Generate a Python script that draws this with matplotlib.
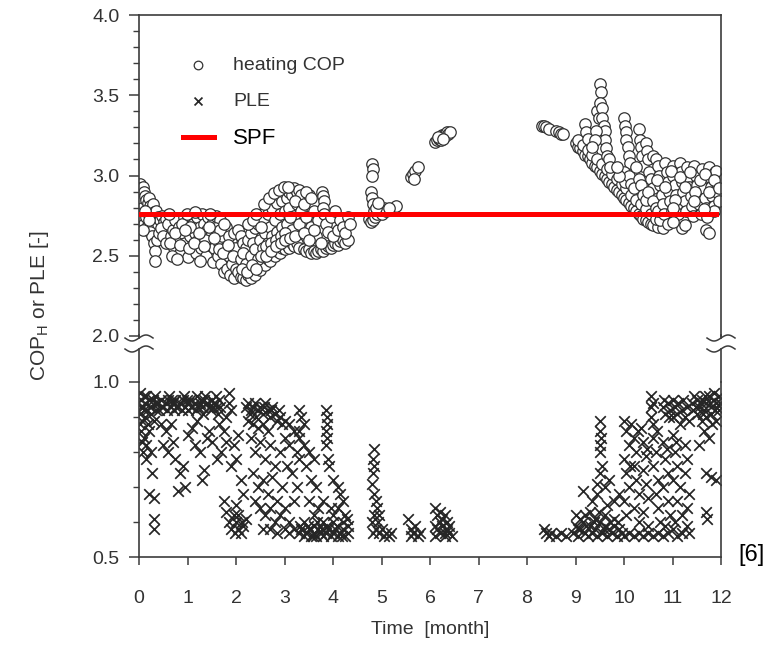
import numpy as np
import matplotlib.pyplot as plt
from matplotlib import font_manager

names = {f.name for f in font_manager.fontManager.ttflist}
narrow = 'Liberation Sans Narrow' if 'Liberation Sans Narrow' in names else 'Liberation Sans'

# heating COP, [time in months, COP]
cop_start = [
    (0.02, 2.95), (0.03, 2.92), (0.05, 2.88), (0.04, 2.84), (0.06, 2.80), (0.03, 2.76), (0.05, 2.72),
    (0.08, 2.93), (0.10, 2.90), (0.12, 2.87), (0.15, 2.85), (0.18, 2.83), (0.20, 2.86), (0.22, 2.81),
    (0.25, 2.79), (0.28, 2.82), (0.30, 2.77), (0.33, 2.75), (0.36, 2.78), (0.40, 2.74), (0.44, 2.72),
    (0.48, 2.75), (0.52, 2.71), (0.56, 2.73), (0.10, 2.70), (0.14, 2.74), (0.17, 2.68), (0.22, 2.65),
    (0.26, 2.62), (0.30, 2.58), (0.34, 2.53), (0.33, 2.47), (0.38, 2.60), (0.42, 2.64), (0.46, 2.67),
    (0.50, 2.62), (0.55, 2.58), (0.12, 2.78), (0.08, 2.66), (0.20, 2.72)]
cop_winter = [
    (0.60, 2.70), (0.65, 2.62), (0.70, 2.66), (0.72, 2.55), (0.75, 2.72), (0.80, 2.60), (0.82, 2.68),
    (0.85, 2.52), (0.90, 2.64), (0.92, 2.74), (0.95, 2.58), (1.00, 2.67), (1.02, 2.49), (1.05, 2.62),
    (1.08, 2.75), (1.10, 2.56), (1.12, 2.70), (1.15, 2.64), (1.18, 2.52), (1.20, 2.74), (1.22, 2.60),
    (1.25, 2.68), (1.28, 2.55), (1.30, 2.76), (1.32, 2.63), (1.35, 2.70), (1.38, 2.50), (1.40, 2.66),
    (1.42, 2.74), (1.45, 2.58), (1.48, 2.62), (1.50, 2.70), (1.52, 2.46), (1.55, 2.55), (1.58, 2.75),
    (1.60, 2.64), (1.62, 2.50), (1.65, 2.58), (1.68, 2.72), (1.70, 2.45), (1.72, 2.62), (1.75, 2.40),
    (1.78, 2.55), (1.80, 2.68), (1.82, 2.42), (1.85, 2.50), (1.88, 2.38), (1.90, 2.60), (1.92, 2.45),
    (1.95, 2.36), (1.98, 2.55), (2.00, 2.42), (0.62, 2.76), (0.68, 2.50), (0.78, 2.48), (0.88, 2.70),
    (0.98, 2.76), (1.06, 2.68), (1.16, 2.77), (1.26, 2.47), (1.36, 2.60), (1.46, 2.76), (1.56, 2.67),
    (1.66, 2.66), (1.76, 2.70), (1.86, 2.62), (1.96, 2.64), (0.64, 2.58), (0.74, 2.64), (0.84, 2.57),
    (0.94, 2.66), (1.04, 2.55), (1.14, 2.58), (1.24, 2.64), (1.34, 2.56), (1.44, 2.68), (1.54, 2.61),
    (1.64, 2.54), (1.74, 2.52), (1.84, 2.57), (1.94, 2.50)]
cop_spring = [
    (2.05, 2.66), (2.10, 2.62), (2.15, 2.58), (2.20, 2.55), (2.25, 2.60), (2.30, 2.64), (2.35, 2.58),
    (2.40, 2.67), (2.45, 2.70), (2.50, 2.74), (2.55, 2.72), (2.60, 2.78), (2.65, 2.76), (2.70, 2.82),
    (2.75, 2.80), (2.80, 2.85), (2.85, 2.83), (2.90, 2.87), (2.95, 2.84), (3.00, 2.89), (3.05, 2.86),
    (3.10, 2.90), (3.15, 2.88), (3.20, 2.92), (3.25, 2.90), (3.30, 2.91), (3.35, 2.88),
    (2.05, 2.40), (2.10, 2.37), (2.15, 2.36), (2.20, 2.35), (2.25, 2.38), (2.30, 2.36), (2.35, 2.40),
    (2.40, 2.38), (2.45, 2.43), (2.50, 2.41), (2.55, 2.46), (2.60, 2.44), (2.65, 2.48), (2.70, 2.47),
    (2.75, 2.51), (2.80, 2.50), (2.85, 2.53), (2.90, 2.52), (2.95, 2.55), (3.00, 2.54), (3.05, 2.57),
    (3.10, 2.55), (3.15, 2.58), (3.20, 2.56), (3.25, 2.58), (3.30, 2.55),
    (2.10, 2.48), (2.15, 2.52), (2.20, 2.45), (2.30, 2.50), (2.40, 2.54), (2.45, 2.48), (2.50, 2.60),
    (2.55, 2.55), (2.60, 2.64), (2.65, 2.58), (2.70, 2.68), (2.75, 2.62), (2.80, 2.72), (2.85, 2.65),
    (2.90, 2.76), (2.95, 2.68), (3.00, 2.78), (3.05, 2.70), (3.10, 2.80), (3.15, 2.66), (3.20, 2.75),
    (3.25, 2.82), (3.30, 2.70), (3.35, 2.78), (2.25, 2.70), (2.35, 2.72), (2.42, 2.76), (2.52, 2.68),
    (2.62, 2.56), (2.72, 2.58), (2.82, 2.60), (2.92, 2.62), (3.02, 2.64), (3.12, 2.74), (3.22, 2.84),
    (2.12, 2.42), (2.22, 2.40), (2.32, 2.44), (2.42, 2.42), (2.52, 2.50), (2.62, 2.50), (2.72, 2.53),
    (2.82, 2.56), (2.92, 2.58), (3.02, 2.60), (3.12, 2.61), (3.22, 2.62), (2.58, 2.82), (2.68, 2.86),
    (2.78, 2.89), (2.88, 2.91), (2.98, 2.93), (3.08, 2.93)]
cop_april = [
    (3.40, 2.54), (3.45, 2.53), (3.50, 2.54), (3.55, 2.52), (3.60, 2.53), (3.65, 2.52), (3.70, 2.53),
    (3.75, 2.54), (3.80, 2.53), (3.85, 2.55), (3.90, 2.56), (3.95, 2.55), (4.00, 2.57), (4.05, 2.58),
    (4.10, 2.57), (4.15, 2.59), (4.20, 2.60), (4.25, 2.58), (4.30, 2.60),
    (3.40, 2.82), (3.45, 2.74), (3.50, 2.88), (3.55, 2.68), (3.60, 2.78), (3.65, 2.62), (3.70, 2.72),
    (3.40, 2.64), (3.50, 2.60), (3.60, 2.66), (3.75, 2.58), (3.78, 2.90), (3.80, 2.87), (3.82, 2.84),
    (3.80, 2.80), (3.82, 2.76), (3.85, 2.70), (3.90, 2.65), (3.95, 2.74), (4.00, 2.62), (4.05, 2.78),
    (4.10, 2.66), (4.15, 2.72), (4.20, 2.68), (4.25, 2.64), (4.30, 2.74), (4.35, 2.70), (3.45, 2.90),
    (3.55, 2.86)]
cop_summer = [
    (4.80, 3.07), (4.82, 3.04), (4.80, 3.00), (4.78, 2.90), (4.80, 2.86), (4.82, 2.82), (4.85, 2.78),
    (4.75, 2.73), (4.78, 2.71), (4.82, 2.72), (4.86, 2.74), (4.90, 2.76), (4.95, 2.78), (5.00, 2.76),
    (5.05, 2.80), (5.10, 2.78), (4.88, 2.80), (4.92, 2.83), (5.30, 2.81), (5.15, 2.80),
    (5.60, 2.99), (5.65, 3.01), (5.70, 3.03), (5.75, 3.05), (5.68, 2.98),
    (6.10, 3.21), (6.14, 3.22), (6.18, 3.23), (6.20, 3.24), (6.22, 3.22), (6.25, 3.25), (6.28, 3.24),
    (6.30, 3.26), (6.32, 3.25), (6.35, 3.27), (6.38, 3.26), (6.42, 3.27), (6.16, 3.24), (6.26, 3.23),
    (8.30, 3.31), (8.35, 3.31), (8.40, 3.30), (8.45, 3.29), (8.60, 3.28), (8.65, 3.27), (8.70, 3.26),
    (8.75, 3.26)]
cop_autumn = [
    (9.00, 3.20), (9.05, 3.18), (9.10, 3.17), (9.15, 3.15), (9.20, 3.13), (9.25, 3.12), (9.30, 3.10),
    (9.35, 3.08), (9.40, 3.06), (9.45, 3.05), (9.50, 3.03), (9.55, 3.01), (9.60, 3.00), (9.65, 2.98),
    (9.70, 2.96), (9.75, 2.95), (9.80, 2.93), (9.85, 2.91), (9.90, 2.90), (9.95, 2.88), (10.00, 2.86),
    (10.05, 2.85), (10.10, 2.83), (10.15, 2.81), (10.20, 2.80), (10.25, 2.78), (10.30, 2.76),
    (10.35, 2.75), (10.40, 2.73), (10.45, 2.72), (10.50, 2.71), (10.55, 2.70), (10.60, 2.69),
    (10.70, 2.68), (10.80, 2.67),
    (9.05, 3.22), (9.15, 3.19), (9.25, 3.16), (9.35, 3.13), (9.45, 3.10), (9.55, 3.07), (9.65, 3.04),
    (9.75, 3.01), (9.85, 2.98), (9.95, 2.95), (10.05, 2.92), (10.15, 2.88), (10.25, 2.85), (10.35, 2.82),
    (10.45, 2.79), (10.55, 2.76), (10.65, 2.73), (10.75, 2.72),
    (9.20, 3.32), (9.22, 3.27), (9.25, 3.23), (9.45, 3.40), (9.48, 3.36), (9.50, 3.57), (9.52, 3.52),
    (9.50, 3.45), (9.55, 3.42), (9.55, 3.36), (9.58, 3.31), (9.60, 3.28), (9.60, 3.22), (9.62, 3.17),
    (9.65, 3.12), (9.42, 3.28), (9.40, 3.22), (9.35, 3.18), (9.70, 3.10), (9.72, 3.05), (10.00, 3.36),
    (10.02, 3.31), (10.05, 3.27), (10.05, 3.22), (10.08, 3.18), (10.10, 3.12), (10.12, 3.08),
    (10.00, 3.02), (10.02, 2.96), (10.10, 3.00), (10.15, 2.95), (10.20, 2.92), (10.30, 3.29),
    (10.32, 3.22), (10.35, 3.18), (10.38, 3.12), (10.40, 3.06), (10.45, 3.20), (10.48, 3.15),
    (10.50, 3.10), (10.52, 3.02), (10.55, 2.98), (10.60, 2.92), (10.25, 3.05), (10.30, 2.98),
    (10.35, 2.94), (10.40, 2.88), (10.45, 2.85), (10.50, 2.90), (10.60, 2.84), (10.65, 2.80),
    (10.70, 2.78), (9.90, 3.00), (9.85, 3.05)]
cop_december = [
    (10.60, 3.12), (10.65, 3.10), (10.70, 3.06), (10.72, 3.00), (10.75, 2.94), (10.78, 2.88),
    (10.80, 2.82), (10.82, 2.76), (10.85, 3.08), (10.88, 3.02), (10.90, 2.96), (10.92, 2.90),
    (10.95, 2.84), (10.98, 2.78), (11.00, 3.06), (11.02, 3.00), (11.05, 2.94), (11.08, 2.88),
    (11.10, 2.82), (11.12, 2.76), (11.15, 3.08), (11.18, 3.02), (11.20, 2.96), (11.22, 2.90),
    (11.25, 2.84), (11.28, 2.78), (11.30, 3.05), (11.32, 2.99), (11.35, 2.93), (11.38, 2.87),
    (11.40, 2.81), (11.42, 2.75), (11.45, 3.06), (11.48, 3.00), (11.50, 2.94), (11.52, 2.88),
    (11.55, 2.82), (11.58, 2.76), (11.60, 3.04), (11.62, 2.98), (11.65, 2.92), (11.68, 2.86),
    (11.70, 2.80), (11.72, 2.74), (11.75, 3.05), (11.78, 2.99), (11.80, 2.93), (11.82, 2.87),
    (11.85, 2.81), (11.88, 3.02), (11.90, 2.96), (11.92, 2.90), (11.95, 2.84), (11.95, 2.98),
    (11.90, 3.03), (11.85, 2.78), (11.20, 2.67), (11.25, 2.69), (11.70, 2.66), (11.75, 2.64),
    (10.90, 2.70), (11.00, 2.71), (10.68, 2.97), (10.84, 2.93), (10.96, 3.03), (11.06, 2.85),
    (11.16, 2.99), (11.26, 2.93), (11.36, 3.02), (11.46, 2.90), (11.56, 2.97), (11.66, 3.01),
    (11.76, 2.90), (11.86, 2.97), (11.96, 2.92), (11.00, 2.80), (11.44, 2.84), (11.64, 2.79)]

# part load efficiency, [time in months, PLE]
ple_winter = [
    (0.02, 0.97), (0.05, 0.95), (0.08, 0.93), (0.10, 0.96), (0.13, 0.94), (0.16, 0.92), (0.20, 0.95),
    (0.24, 0.93), (0.28, 0.95), (0.32, 0.94), (0.36, 0.92), (0.40, 0.94), (0.45, 0.95), (0.50, 0.93),
    (0.55, 0.94), (0.60, 0.95), (0.65, 0.93), (0.70, 0.94), (0.75, 0.95), (0.80, 0.93), (0.85, 0.94),
    (0.90, 0.95), (0.95, 0.93), (1.00, 0.94), (1.05, 0.95), (1.10, 0.93), (1.15, 0.94), (1.20, 0.96),
    (1.25, 0.94), (1.30, 0.93), (1.35, 0.95), (1.40, 0.94), (1.45, 0.93), (1.50, 0.95), (1.55, 0.94),
    (1.60, 0.93), (1.65, 0.95),
    (0.03, 0.91), (0.07, 0.89), (0.12, 0.90), (0.18, 0.88), (0.25, 0.91), (0.30, 0.89), (0.42, 0.92),
    (0.58, 0.92), (0.72, 0.92), (0.88, 0.92), (1.02, 0.92), (1.18, 0.92), (1.32, 0.91), (1.48, 0.92),
    (1.62, 0.91), (0.05, 0.86), (0.10, 0.84), (0.15, 0.82), (0.08, 0.80), (0.20, 0.86),
    (0.15, 0.78), (0.25, 0.80), (0.27, 0.74), (0.20, 0.68), (0.30, 0.67), (0.30, 0.61), (0.30, 0.58),
    (0.45, 0.88), (0.55, 0.86), (0.60, 0.80), (0.70, 0.83), (0.75, 0.78), (0.80, 0.69), (0.85, 0.74),
    (0.90, 0.76), (0.95, 0.70), (1.00, 0.85), (1.10, 0.87), (1.15, 0.82), (1.25, 0.80), (1.30, 0.72),
    (1.35, 0.75), (1.45, 0.86), (1.50, 0.83), (1.60, 0.78), (1.65, 0.88), (0.50, 0.82), (0.65, 0.88),
    (1.20, 0.89), (1.40, 0.84),
    (0.04, 0.93), (0.14, 0.96), (0.22, 0.93), (0.34, 0.96), (0.47, 0.93), (0.62, 0.96), (0.77, 0.93),
    (0.92, 0.96), (1.07, 0.93), (1.22, 0.93), (1.37, 0.96), (1.52, 0.93), (1.67, 0.93), (0.10, 0.92),
    (0.38, 0.94), (0.68, 0.95), (0.98, 0.95), (1.28, 0.95), (1.58, 0.96), (0.02, 0.88), (0.06, 0.83)]
ple_spring = [
    (1.85, 0.97), (1.85, 0.94), (1.90, 0.92), (1.80, 0.90), (1.75, 0.86), (1.80, 0.83), (1.70, 0.80),
    (1.75, 0.66), (1.80, 0.63), (1.85, 0.60), (1.90, 0.58), (1.95, 0.62), (2.00, 0.60), (2.05, 0.58),
    (2.10, 0.57), (2.15, 0.59), (2.00, 0.65), (1.95, 0.82), (2.00, 0.78), (2.05, 0.85), (2.10, 0.72),
    (2.15, 0.68), (1.90, 0.76), (2.20, 0.61),
    (2.20, 0.93), (2.25, 0.94), (2.30, 0.92), (2.35, 0.93), (2.40, 0.94), (2.45, 0.92), (2.50, 0.93),
    (2.55, 0.91), (2.60, 0.94), (2.65, 0.92), (2.70, 0.90), (2.75, 0.93), (2.80, 0.91), (2.85, 0.89),
    (2.90, 0.90), (2.95, 0.88), (2.25, 0.89), (2.35, 0.88), (2.45, 0.87), (2.55, 0.88), (2.65, 0.86),
    (2.30, 0.84), (2.40, 0.80), (2.50, 0.83), (2.60, 0.78), (2.70, 0.82), (2.80, 0.76), (2.90, 0.80),
    (3.00, 0.84), (3.10, 0.82), (2.35, 0.74), (2.45, 0.70), (2.55, 0.72), (2.65, 0.68), (2.75, 0.73),
    (2.85, 0.66), (2.95, 0.70), (3.05, 0.76), (3.15, 0.74), (2.40, 0.66), (2.50, 0.64), (2.60, 0.62),
    (2.70, 0.64), (2.80, 0.60), (2.90, 0.62), (3.00, 0.64), (3.10, 0.60), (3.20, 0.66), (2.55, 0.58),
    (2.70, 0.58), (2.85, 0.57), (3.00, 0.58), (3.10, 0.57), (3.20, 0.58), (3.25, 0.70), (3.30, 0.78),
    (3.20, 0.86), (3.30, 0.84), (3.25, 0.80), (3.10, 0.88),
    (3.30, 0.92), (3.35, 0.90), (3.40, 0.88), (3.30, 0.86), (3.40, 0.82), (3.50, 0.80), (3.45, 0.76),
    (3.60, 0.78), (3.55, 0.72), (3.65, 0.70), (3.50, 0.66), (3.70, 0.64), (3.60, 0.62), (3.80, 0.66),
    (3.85, 0.92), (3.87, 0.90), (3.87, 0.88), (3.85, 0.86), (3.88, 0.84), (3.85, 0.82), (3.90, 0.78),
    (3.92, 0.76), (4.00, 0.72), (4.10, 0.70), (4.15, 0.68), (4.20, 0.66), (4.10, 0.64), (4.25, 0.62),
    (4.00, 0.62),
    (3.30, 0.57), (3.35, 0.58), (3.40, 0.56), (3.45, 0.57), (3.50, 0.58), (3.55, 0.56), (3.60, 0.57),
    (3.65, 0.56), (3.70, 0.58), (3.75, 0.57), (3.80, 0.56), (3.85, 0.57), (3.90, 0.58), (3.95, 0.56),
    (4.00, 0.57), (4.05, 0.58), (4.10, 0.56), (4.15, 0.57), (4.20, 0.58), (4.25, 0.56), (4.30, 0.57),
    (3.40, 0.60), (3.60, 0.59), (3.80, 0.60), (4.00, 0.60), (4.20, 0.60), (3.95, 0.64), (4.30, 0.59),
    (2.28, 0.91), (2.42, 0.90), (2.58, 0.93), (2.72, 0.92), (2.88, 0.92), (3.02, 0.89), (2.05, 0.62),
    (2.12, 0.60), (1.98, 0.57), (3.32, 0.59), (3.48, 0.59), (3.68, 0.60), (3.88, 0.59), (4.08, 0.59),
    (4.28, 0.61), (3.58, 0.56), (3.78, 0.58), (4.18, 0.56)]
ple_summer = [
    (4.85, 0.81), (4.83, 0.78), (4.85, 0.76), (4.83, 0.74), (4.80, 0.71), (4.85, 0.68), (4.88, 0.66),
    (4.90, 0.64), (4.85, 0.62), (4.92, 0.60), (4.88, 0.58), (4.95, 0.57), (5.00, 0.58), (5.05, 0.56),
    (5.10, 0.57), (5.15, 0.56), (5.20, 0.57), (4.80, 0.60), (4.95, 0.62), (4.82, 0.57),
    (5.55, 0.61), (5.60, 0.58), (5.65, 0.57), (5.70, 0.59), (5.75, 0.56), (5.80, 0.57), (5.60, 0.56),
    (6.10, 0.64), (6.15, 0.62), (6.20, 0.63), (6.25, 0.61), (6.30, 0.62), (6.35, 0.60), (6.10, 0.59),
    (6.15, 0.58), (6.20, 0.57), (6.25, 0.59), (6.30, 0.57), (6.35, 0.58), (6.40, 0.57), (6.45, 0.56),
    (6.10, 0.56), (6.20, 0.60), (6.30, 0.56), (6.40, 0.59),
    (8.35, 0.58), (8.40, 0.57), (8.45, 0.56), (8.50, 0.57), (8.60, 0.56), (8.70, 0.57), (8.80, 0.56)]
ple_autumn = [
    (8.95, 0.57), (9.00, 0.59), (9.05, 0.56), (9.10, 0.58), (9.15, 0.60), (9.20, 0.57), (9.25, 0.56),
    (9.30, 0.59), (9.35, 0.57), (9.40, 0.58), (9.45, 0.56), (9.50, 0.60), (9.55, 0.57), (9.60, 0.59),
    (9.65, 0.56), (9.70, 0.58), (9.75, 0.57), (9.80, 0.59), (9.85, 0.56), (9.90, 0.58), (9.95, 0.57),
    (10.00, 0.56), (9.00, 0.62), (9.10, 0.61), (9.20, 0.62), (9.30, 0.63), (9.40, 0.61), (9.60, 0.62),
    (9.80, 0.61), (9.15, 0.69), (9.35, 0.66), (9.45, 0.71), (9.50, 0.74), (9.55, 0.76), (9.50, 0.80),
    (9.50, 0.82), (9.52, 0.84), (9.50, 0.86), (9.50, 0.89), (9.45, 0.68), (9.60, 0.70), (9.65, 0.65),
    (9.70, 0.72), (9.80, 0.66), (9.90, 0.68),
    (10.00, 0.89), (10.05, 0.86), (10.10, 0.82), (10.00, 0.78), (10.05, 0.74), (10.10, 0.70),
    (10.00, 0.66), (10.05, 0.62), (10.15, 0.88), (10.20, 0.84), (10.25, 0.80), (10.20, 0.76),
    (10.25, 0.72), (10.30, 0.68), (10.20, 0.64), (10.30, 0.60), (10.35, 0.87), (10.40, 0.83),
    (10.45, 0.79), (10.40, 0.75), (10.45, 0.71), (10.50, 0.67), (10.40, 0.63), (10.50, 0.59),
    (10.55, 0.93), (10.55, 0.90), (10.60, 0.88), (10.60, 0.84), (10.65, 0.80), (10.60, 0.76),
    (10.70, 0.72), (10.65, 0.68), (10.70, 0.64), (10.75, 0.60), (10.80, 0.83), (10.85, 0.78),
    (10.90, 0.74), (10.80, 0.70), (10.90, 0.66), (10.95, 0.62), (11.00, 0.85), (11.05, 0.80),
    (11.10, 0.76), (11.00, 0.72), (11.15, 0.70), (11.10, 0.66), (11.20, 0.62), (11.25, 0.82),
    (11.30, 0.78), (11.25, 0.74), (11.35, 0.68), (11.30, 0.64),
    (9.05, 0.58), (9.22, 0.59), (9.38, 0.60), (9.58, 0.58), (9.72, 0.60), (9.88, 0.60), (9.48, 0.63),
    (10.12, 0.76), (10.28, 0.86), (10.48, 0.81), (10.68, 0.86), (10.88, 0.81), (11.08, 0.83)]
ple_december = [
    (10.10, 0.57), (10.20, 0.56), (10.30, 0.57), (10.40, 0.56), (10.50, 0.57), (10.60, 0.56),
    (10.70, 0.57), (10.80, 0.56), (10.90, 0.57), (11.00, 0.58), (11.10, 0.56), (11.20, 0.57),
    (11.30, 0.59), (11.35, 0.57), (10.85, 0.59), (11.05, 0.60),
    (10.55, 0.96), (10.60, 0.94), (10.80, 0.93), (10.85, 0.91), (10.90, 0.94), (10.95, 0.92),
    (11.00, 0.90), (11.05, 0.93), (11.10, 0.91), (11.15, 0.88), (11.20, 0.92), (11.25, 0.90),
    (11.30, 0.93), (11.35, 0.89), (11.40, 0.94), (11.45, 0.96), (11.50, 0.95), (11.55, 0.93),
    (11.60, 0.95), (11.65, 0.92), (11.70, 0.94), (11.75, 0.96), (11.80, 0.93), (11.85, 0.95),
    (11.90, 0.94), (11.95, 0.92), (11.50, 0.91), (11.60, 0.89), (11.70, 0.90), (11.80, 0.91),
    (11.90, 0.89), (11.65, 0.86), (11.75, 0.84), (11.55, 0.82), (11.70, 0.74), (11.80, 0.73),
    (11.90, 0.72), (11.70, 0.63), (11.72, 0.61), (11.95, 0.96),
    (10.83, 0.95), (10.92, 0.90), (11.02, 0.95), (11.12, 0.94), (11.22, 0.95), (11.42, 0.92),
    (11.48, 0.93), (11.58, 0.94), (11.68, 0.96), (11.78, 0.94), (11.88, 0.92), (11.97, 0.94),
    (11.85, 0.97), (11.62, 0.91), (11.82, 0.88)]

spf = 2.76
spf_period = [0.05, 11.9]

cop = np.array(cop_start + cop_winter + cop_spring + cop_april + cop_summer + cop_autumn + cop_december)
ple = np.array(ple_winter + ple_spring + ple_summer + ple_autumn + ple_december)

W, H = 782, 659
fig = plt.figure(figsize=(W / 100, H / 100), dpi=100)
plt.rcParams['font.family'] = narrow

left, right = 139, 721
top_ax = fig.add_axes([left / W, 1 - 336 / H, (right - left) / W, (336 - 15) / H])
low_ax = fig.add_axes([left / W, 1 - 557 / H, (right - left) / W, (557 - 382) / H])

spine_c = '#3c3c3c'
text_c = '#333333'

h_cop = top_ax.scatter(cop[:, 0], cop[:, 1], s=68, facecolors='white', edgecolors='#333333',
                       linewidths=0.9, zorder=2, label='heating COP')
h_spf, = top_ax.plot(spf_period, [spf, spf], color='#ff0000', lw=3.6, zorder=3, label='SPF')
h_ple = low_ax.scatter(ple[:, 0], ple[:, 1], s=58, marker='x', color='#262626',
                       linewidths=1.25, zorder=2, label='PLE')

for ax in (top_ax, low_ax):
    ax.set_xlim(0, 12)
    for s in ax.spines.values():
        s.set_color(spine_c)
        s.set_linewidth(1.2)
    ax.tick_params(axis='y', which='both', direction='out', left=True, right=False,
                   colors=spine_c, labelcolor=text_c, labelsize=14, pad=7)
    ax.tick_params(axis='y', which='major', length=7, width=1.1)
    ax.tick_params(axis='y', which='minor', length=4, width=1.0)

top_ax.set_ylim(2.0, 4.0)
top_ax.set_yticks([2.0, 2.5, 3.0, 3.5, 4.0])
top_ax.set_yticks(np.arange(2.1, 4.0, 0.1), minor=True)
top_ax.set_yticklabels(['2.0', '2.5', '3.0', '3.5', '4.0'])
top_ax.spines['bottom'].set_visible(False)
top_ax.tick_params(axis='x', which='both', bottom=False, top=False, labelbottom=False)

low_ax.set_ylim(0.5, 1.0)
low_ax.set_yticks([0.5, 1.0])
low_ax.set_yticks([0.6, 0.7, 0.8, 0.9], minor=True)
low_ax.set_yticklabels(['0.5', '1.0'])
low_ax.spines['top'].set_visible(False)
low_ax.set_xticks(range(13))
low_ax.tick_params(axis='x', which='major', direction='out', top=False, length=6, width=1.1,
                   colors=spine_c, labelcolor=text_c, labelsize=14, pad=18)
low_ax.set_xlabel('Time  [month]', fontsize=14, color=text_c, labelpad=10)

# spines across the break, with wavy break marks
for xp in (left, right):
    for y0, y1 in ((335, 338), (349, 382)):
        fig.add_artist(plt.Line2D([xp / W, xp / W], [1 - y0 / H, 1 - y1 / H],
                                  transform=fig.transFigure, color=spine_c, lw=1.2))
    for yp in (338, 349):
        t = np.linspace(-1, 1, 40)
        fig.add_artist(plt.Line2D((xp + 14 * t) / W, 1 - (yp - 3 * np.sin(np.pi * t)) / H,
                                  transform=fig.transFigure, color=spine_c, lw=1.1))

fig.text(40 / W, 1 - 305 / H, 'COP$_\\mathregular{H}$ or PLE [-]', rotation=90, ha='center',
         va='center', fontsize=15, color=text_c)

leg = top_ax.legend([h_cop, h_ple, h_spf], ['heating COP', 'PLE', 'SPF'], loc='upper left',
                    bbox_to_anchor=(0.075, 0.872), frameon=False, fontsize=14, handlelength=1.6,
                    handletextpad=1.0, labelspacing=0.95, borderpad=0, borderaxespad=0,
                    scatterpoints=1, markerscale=0.75)
for txt in leg.get_texts():
    txt.set_color(text_c)
leg.get_texts()[2].set_family('Liberation Sans')
leg.get_texts()[2].set_fontsize(16)
leg.get_texts()[2].set_color('black')

fig.text(752 / W, 1 - 555 / H, '[6]', ha='center', va='center', fontsize=17,
         family='Liberation Sans', color='black')

fig.savefig('out.png', dpi=100)
